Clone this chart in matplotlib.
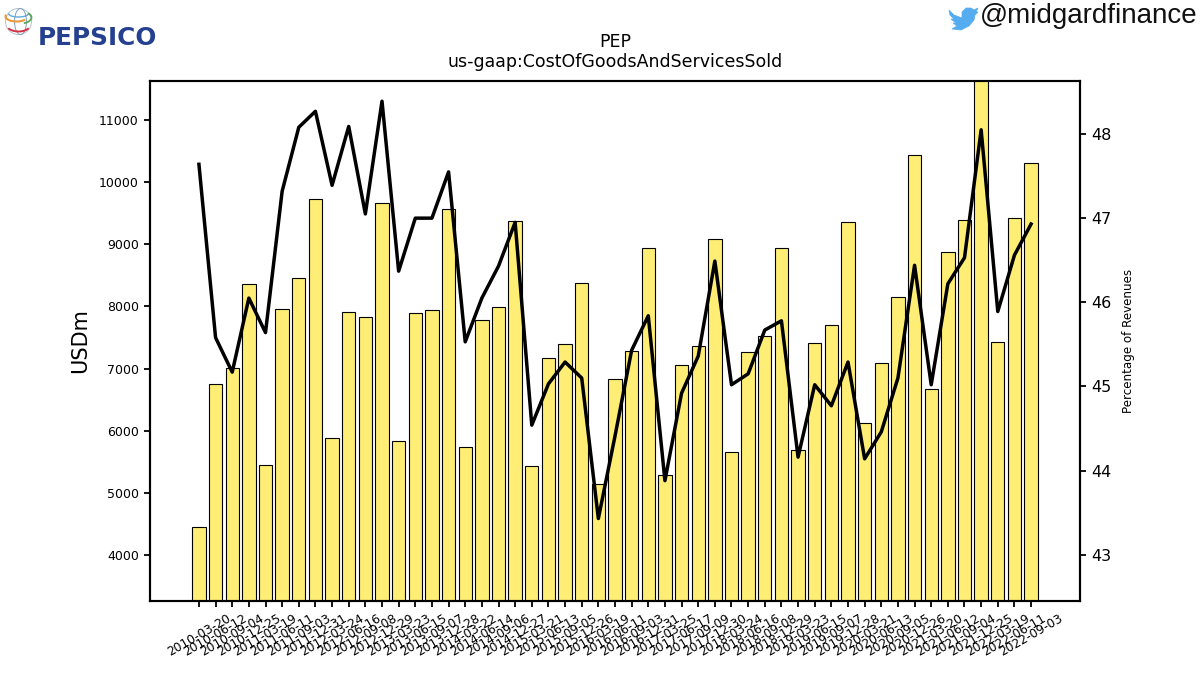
import matplotlib
matplotlib.use("Agg")
import matplotlib.pyplot as plt
from matplotlib.patches import Ellipse, Polygon, Circle, Arc

ticker = "PEP"
concept = "us-gaap:CostOfGoodsAndServicesSold"

dates = [
    "2010-03-20", "2010-06-12", "2010-09-04", "2010-12-25",
    "2011-03-19", "2011-06-11", "2011-09-03", "2011-12-31",
    "2012-03-24", "2012-06-16", "2012-09-08", "2012-12-29",
    "2013-03-23", "2013-06-15", "2013-09-07", "2013-12-28",
    "2014-03-22", "2014-06-14", "2014-09-06", "2014-12-27",
    "2015-03-21", "2015-06-13", "2015-09-05", "2015-12-26",
    "2016-03-19", "2016-06-11", "2016-09-03", "2016-12-31",
    "2017-03-25", "2017-06-17", "2017-09-09", "2017-12-30",
    "2018-03-24", "2018-06-16", "2018-09-08", "2018-12-29",
    "2019-03-23", "2019-06-15", "2019-09-07", "2019-12-28",
    "2020-03-21", "2020-06-13", "2020-09-05", "2020-12-26",
    "2021-03-20", "2021-06-12", "2021-09-04", "2021-12-25",
    "2022-03-19", "2022-06-11", "2022-09-03",
]

cogs = [
    4450, 6750, 7010, 8360, 5450, 7960, 8460, 9730, 5880, 7910,
    7830, 9660, 5830, 7890, 7940, 9570, 5740, 7780, 7990, 9370,
    5430, 7170, 7390, 8380, 5140, 6830, 7290, 8940, 5290, 7060,
    7360, 9080, 5660, 7270, 7520, 8940, 5690, 7410, 7700, 9360,
    6120, 7090, 8150, 10430, 6670, 8870, 9390, 11700, 7420, 9420,
    10310,
]

pct_revenue = [
    47.64, 45.58, 45.17, 46.05, 45.64, 47.32, 48.08, 48.27, 47.39, 48.09,
    47.05, 48.39, 46.37, 47.00, 47.00, 47.55, 45.53, 46.05, 46.43, 46.95,
    44.54, 45.03, 45.29, 45.10, 43.43, 44.41, 45.43, 45.84, 43.88, 44.92,
    45.36, 46.49, 45.02, 45.15, 45.67, 45.78, 44.16, 45.02, 44.77, 45.29,
    44.14, 44.46, 45.10, 46.44, 45.02, 46.22, 46.53, 48.05, 45.89, 46.56,
    46.93,
]

fig = plt.figure(figsize=(12, 6.75), dpi=100)
ax = fig.add_axes([150 / 1200, 1 - 601 / 675, 930 / 1200, 520 / 675])

ax.bar(dates, cogs, width=0.8, color="#ffee75", edgecolor="black", linewidth=0.8)
ax.set_xlim(-2.94, 52.94)
ax.set_ylim(3260, 11628)
ax.set_ylabel("USDm", fontsize=15, labelpad=6.5)
ax.tick_params(axis="y", labelsize=9, width=1.3, length=4.5)
ax.tick_params(axis="x", labelsize=8.8, width=1.3, length=4.5, labelrotation=30)
for lab in ax.get_xticklabels():
    lab.set_ha("center")

ax2 = ax.twinx()
ax2.plot(dates, pct_revenue, color="black", linewidth=2.5)
ax2.set_ylim(42.45, 48.63)
ax2.set_yticks([43, 44, 45, 46, 47, 48])
ax2.set_ylabel("Percentage of Revenues", fontsize=8.6, labelpad=7.5)
ax2.tick_params(axis="y", labelsize=11.5, width=1.3, length=4.5)

for a in (ax, ax2):
    for spine in a.spines.values():
        spine.set_linewidth(1.5)

fig.text(615 / 1200, 1 - 52 / 675, f"{ticker}\n{concept}", ha="center", va="center", fontsize=12.5)

# overlay axes in pixel units for the logo and handle
overlay = fig.add_axes([0, 0, 1, 1], zorder=5)
overlay.set_xlim(0, 1200)
overlay.set_ylim(675, 0)
overlay.axis("off")

# globe
gx, gy = 18.5, 21.5
overlay.add_patch(Circle((gx, gy), 13, facecolor="white", edgecolor="#a8bccc", linewidth=0.6))
overlay.add_patch(Ellipse((gx + 2, gy), 12, 26, facecolor="none", edgecolor="#7f9fbc", linewidth=0.7))
overlay.add_patch(Arc((gx, gy - 8), 20, 7, theta1=0, theta2=180, color="#5fa8d8", linewidth=1.0))
overlay.add_patch(Arc((gx - 2, gy - 5), 22, 10, theta1=20, theta2=190, color="#e89a3c", linewidth=1.5))
overlay.add_patch(Arc((gx + 2, gy - 4), 22, 12, theta1=-30, theta2=60, color="#5aa85a", linewidth=1.3))
overlay.add_patch(Arc((gx, gy + 3), 24, 14, theta1=20, theta2=160, color="#d83040", linewidth=1.4))

overlay.text(37.5, 35.5, "PEPSICO", fontsize=17.8, fontweight="bold", color="#25408f",
             family="DejaVu Sans", ha="left", va="center_baseline")

# twitter bird
bird = [
    (949, 10), (954, 15), (962, 18), (962, 12), (966, 8), (971, 8), (974, 10),
    (978, 8), (976, 12), (978, 12), (975, 15), (974, 20), (969, 26), (961, 30),
    (952, 29), (957, 26), (953, 23), (956, 23), (951, 19), (954, 19), (950, 15),
]
overlay.add_patch(Polygon(bird, closed=True, facecolor="#55acee", edgecolor="#55acee", linewidth=0.5))
overlay.text(979.5, 16, "@midgardfinance", fontsize=20, color="#111111",
             family="Liberation Sans", ha="left", va="center")

fig.savefig("out.png", dpi=100)
